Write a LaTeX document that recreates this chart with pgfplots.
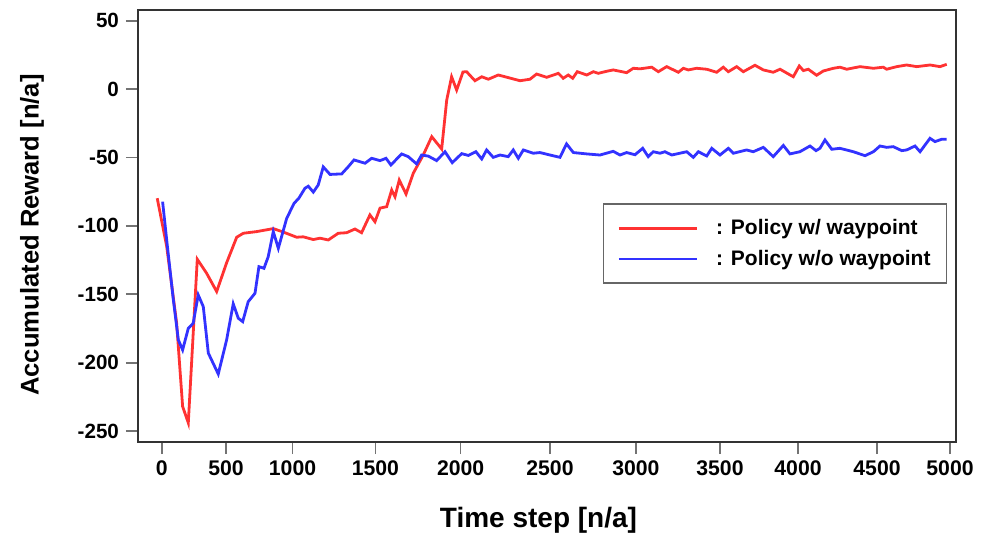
\documentclass[border=0pt]{standalone}
\usepackage{pgfplots}
\pgfplotsset{compat=1.18}
\usepackage{fontspec}
\setmainfont{Liberation Sans}
\definecolor{wpred}{RGB}{255,50,50}
\definecolor{nowpblue}{RGB}{50,50,255}

\pgfplotstableread{
x y
-28 -79.8
32 -115
95 -171
133 -232
169 -244
226 -124.4
285 -134.6
349 -148
412 -127
476 -108.3
518 -105.4
602 -104.2
708 -102
771 -104.5
856 -108.3
898 -108
962 -110
1004 -109
1057 -110.3
1120 -105.4
1173 -105
1226 -102.3
1268 -105
1321 -92
1353 -97
1385 -87
1427 -86
1459 -73.8
1480 -78.7
1507 -66.5
1550 -76.7
1596 -61.5
1659 -48.2
1713 -34.8
1776 -43.8
1808 -8
1839 9
1871 -0.7
1911 12.5
1934 12.7
1987 6.1
2030 9
2072 7.2
2135 10.3
2273 6.1
2336 7.2
2378 11
2442 8.6
2516 11.5
2547 7.9
2579 10.3
2607 7.9
2636 12.7
2696 10.3
2738 12.7
2769 11.5
2822 13
2864 14
2949 12
2991 15.2
3034 14.8
3108 16
3150 12.7
3203 16.4
3277 12.3
3309 15.2
3340 14
3393 15.2
3457 14.5
3520 12.3
3562 16
3594 12.7
3647 16.4
3689 12.7
3763 17.4
3816 14
3879 12.3
3922 14.5
4006 9
4044 16.9
4070 13.5
4101 14.5
4154 10.1
4196 13.2
4260 15.2
4302 16
4345 14.5
4429 16.4
4514 15.2
4577 16
4598 14.5
4662 16.4
4725 17.6
4789 16.4
4873 17.6
4937 16.4
4979 18.1
}\withwp

\pgfplotstableread{
x y
6 -82.3
32 -110.3
74 -154
106 -183.4
133 -190.7
169 -174.9
200 -171.2
232 -150.5
264 -159
296 -193
359 -208.3
412 -183.4
454 -157
486 -167.5
514 -170
549 -155.4
592 -149.3
617 -129.8
649 -131
676 -122.5
708 -104.2
740 -116.4
793 -94.5
840 -83.5
870 -79.8
909 -72.5
930 -71
962 -75.3
993 -70.1
1025 -56.9
1068 -62.4
1142 -62
1184 -56.7
1220 -51.8
1290 -54.2
1332 -50.6
1385 -52.3
1423 -50.6
1454 -55.5
1522 -47.4
1564 -49.4
1617 -54.7
1649 -48.2
1691 -49
1744 -52.3
1797 -45.8
1843 -53.8
1903 -47.2
1945 -48.5
1993 -45.8
2030 -51.1
2061 -44.5
2103 -49.9
2146 -48.2
2198 -49.4
2230 -44.5
2262 -50.6
2294 -44.5
2357 -46.9
2399 -46.4
2463 -48.2
2526 -49.9
2568 -40.1
2611 -46.4
2696 -47.4
2780 -48.2
2864 -45.5
2907 -48.2
2949 -46.4
3002 -48
3051 -43.3
3086 -49.4
3118 -45.8
3161 -46.9
3192 -45.8
3235 -48.2
3330 -45.8
3372 -49.9
3404 -45.8
3457 -48.9
3489 -43.3
3541 -48.2
3594 -43.3
3626 -46.9
3710 -44.5
3752 -45.8
3816 -42.6
3879 -49.4
3943 -41.2
3985 -47.4
4048 -45.8
4112 -41.6
4150 -45
4175 -43.3
4207 -37.2
4250 -44
4302 -43.3
4387 -45.8
4461 -48.7
4514 -45.8
4556 -41.6
4598 -42.6
4640 -42.1
4694 -45
4725 -44.5
4778 -41.6
4810 -45.8
4873 -36
4905 -38.4
4947 -36.7
4979 -36.7
}\nowp

\begin{document}
\begin{tikzpicture}
\path[use as bounding box] (-69pt,-48pt) rectangle (426.5pt,221pt);
\begin{axis}[
  scale only axis, width=409pt, height=216pt,
  xmin=-150, xmax=5038, ymin=-258, ymax=57.8,
  axis line style={line width=1.4pt, black!80},
  xtick={0,408,830,1356,1896,2463,3008,3541,4036,4537,5000},
  xticklabels={0,500,1000,1500,2000,2500,3000,3500,4000,4500,5000},
  ytick={-250,-200,...,50},
  tick align=outside, xtick pos=bottom, ytick pos=left,
  major tick length=6pt,
  tick style={line width=0.9pt, black!55},
  /pgf/number format/assume math mode=true,
  yticklabel style={font=\bfseries\fontsize{10.3}{12}\selectfont},
  xticklabel style={font=\bfseries\fontsize{10.6}{12}\selectfont},
  xlabel={Time step [n/a]}, ylabel={Accumulated Reward [n/a]},
  xlabel style={font=\bfseries\fontsize{14}{16}\selectfont,
    at={(axis description cs:0.4896,-0.1806)}, anchor=center},
  ylabel style={font=\bfseries\fontsize{12.8}{15}\selectfont,
    at={(axis description cs:-0.1296,0.479)}, anchor=center},
  legend style={at={(rel axis cs:0.568,0.5525)}, anchor=north west,
    draw=black!60, line width=0.8pt, inner xsep=7pt, inner ysep=6.5pt,
    font=\bfseries\fontsize{10.5}{12}\selectfont, row sep=4.3pt,
    nodes={inner sep=1pt},
    /tikz/every odd column/.append style={column sep=8pt}},
  legend cell align=left,
  legend image code/.code={\draw[#1, line width=1.4pt] (0pt,0pt) -- (39pt,0pt);},
]
\addplot[wpred, line width=1.4pt] table {\withwp};
\addplot[nowpblue, line width=1.4pt] table {\nowp};
\legend{: Policy w/ waypoint, : Policy w/o waypoint}
\end{axis}
\end{tikzpicture}
\end{document}
